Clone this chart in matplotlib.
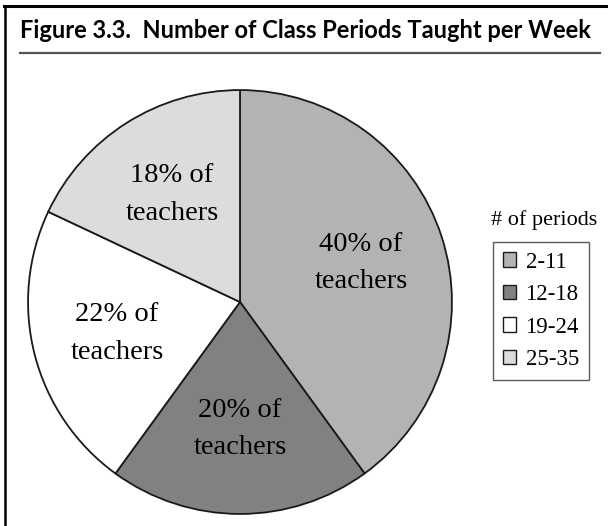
import matplotlib
matplotlib.use("Agg")
from matplotlib import pyplot as plt
from matplotlib.lines import Line2D

# data
periods = ["2-11", "12-18", "19-24", "25-35"]
shares = [40, 20, 22, 18]
colors = ["#b3b3b3", "#818181", "#ffffff", "#dcdcdc"]
title = "Figure 3.3.  Number of Class Periods Taught per Week"

W, H = 608, 526
fig = plt.figure(figsize=(W / 100, H / 100), dpi=100)

# frame lines (top and left) + gray underline of the title
fig.add_artist(Line2D([4 / W, 1], [1 - 6 / H, 1 - 6 / H], color="black", lw=2.2))
fig.add_artist(Line2D([5 / W, 5 / W], [0, 1 - 6 / H], color="black", lw=1.8))
fig.add_artist(Line2D([20 / W, 600 / W], [1 - 53 / H, 1 - 53 / H], color="#555555", lw=1.6))

fig.text(20 / W, 1 - 31 / H, title, family="Lato", weight="bold", fontsize=17,
         ha="left", va="center", color="black")

# pie
cx, cy, r = 240, 302, 213
ax = fig.add_axes([(cx - r) / W, (H - cy - r) / H, 2 * r / W, 2 * r / H])
labels = [f"{s}% of\nteachers" for s in shares]
wedges, texts = ax.pie(shares, colors=colors, startangle=90, counterclock=False,
                       labels=labels, labeldistance=0.6,
                       wedgeprops=dict(edgecolor="#1a1a1a", linewidth=1.3),
                       textprops=dict(family="Liberation Serif", fontsize=20.5,
                                      ha="center", va="center", linespacing=1.65))
for t in texts:
    t.set_horizontalalignment("center")
ax.set_xlim(-1.005, 1.005)
ax.set_ylim(-1.005, 1.005)
ax.set_aspect("equal")
ax.axis("off")

# legend
fig.text(544 / W, 1 - 220 / H, "# of periods", family="Liberation Serif", fontsize=16,
         ha="center", va="center")
leg = fig.legend(wedges, periods, loc="upper left", bbox_to_anchor=(493 / W, 1 - 242 / H),
                 prop=dict(family="Liberation Serif", size=16.5), frameon=True, fancybox=False,
                 borderaxespad=0, borderpad=0.42, labelspacing=0.5, handlelength=0.6,
                 handleheight=0.6, handletextpad=0.4)
leg.get_frame().set_edgecolor("#333333")
leg.get_frame().set_linewidth(1.0)
for h in leg.legend_handles:
    h.set_linewidth(1.0)
    h.set_edgecolor("#1a1a1a")

fig.savefig("out.png", dpi=100)
